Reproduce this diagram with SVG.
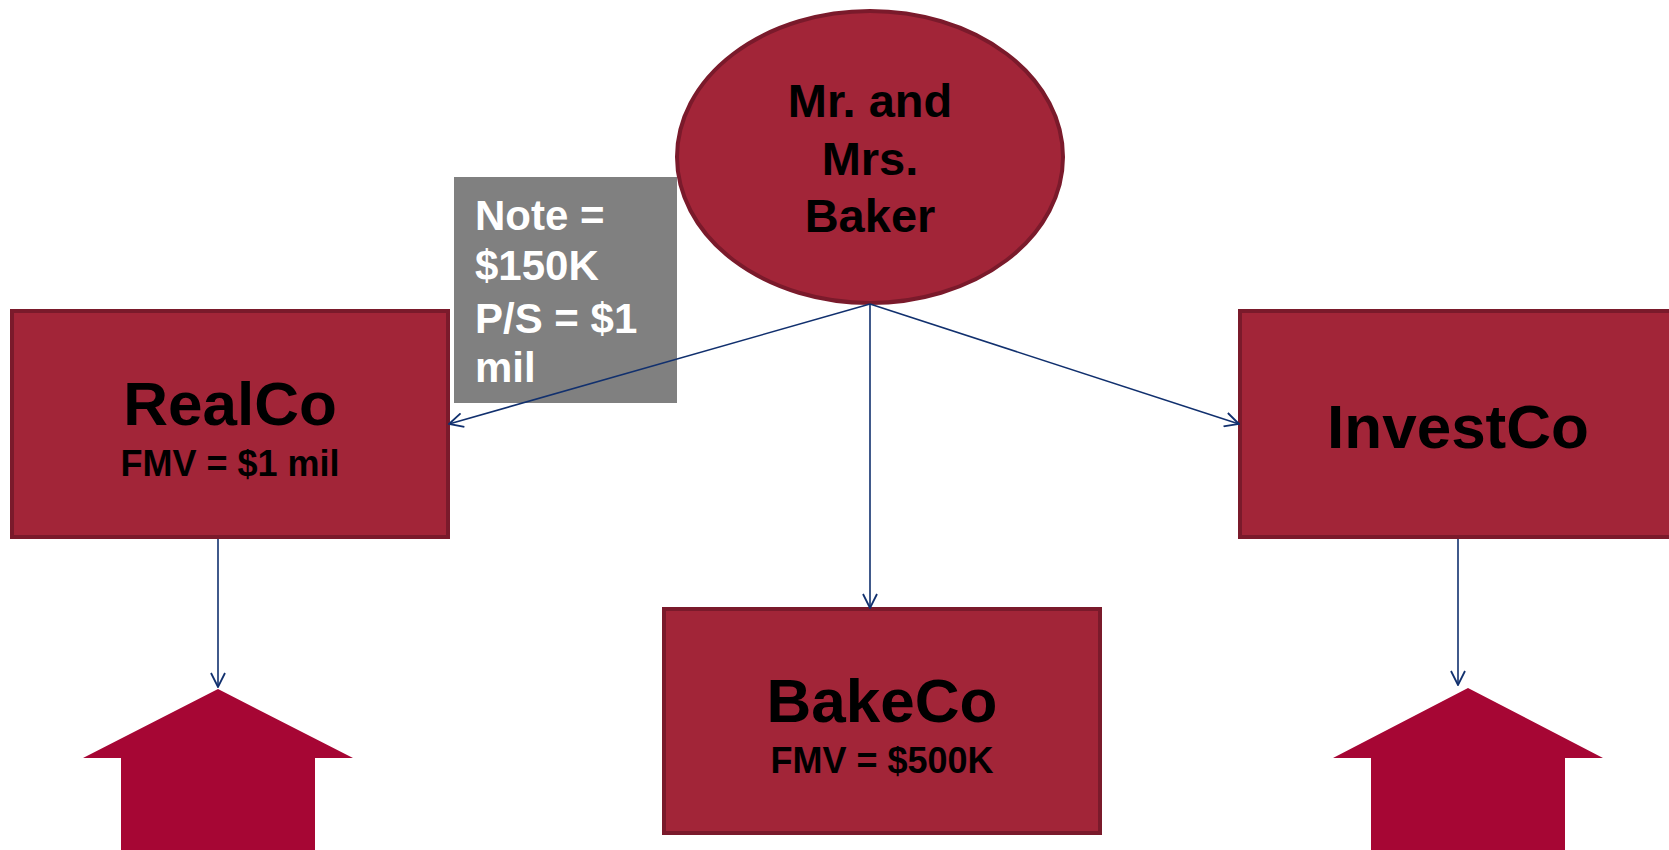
<svg xmlns="http://www.w3.org/2000/svg" width="1669" height="850" viewBox="0 0 1669 850">
<style>
.node{fill:#A22538;stroke:#7A1A2B;stroke-width:4}
.t{font-family:"Liberation Sans",Arial,sans-serif;font-weight:bold;fill:#000;text-anchor:middle}
.big{font-size:62px}
.sub{font-size:36px}
.el{font-size:47px}
.note{font-family:"Liberation Sans",Arial,sans-serif;font-weight:bold;fill:#fff;font-size:42px}
.conn{stroke:#11306E;stroke-width:1.6;fill:none}
.house{fill:#A60634}
</style>
<defs>
<marker id="arr" viewBox="0 0 16 16" refX="15" refY="8" markerWidth="16" markerHeight="16" markerUnits="userSpaceOnUse" orient="auto">
<path d="M1,1 L15,8 L1,15" fill="none" stroke="#11306E" stroke-width="1.8"/>
</marker>
</defs>
<rect width="1669" height="850" fill="#fff"/>
<g id="house-left"><polygon class="house" points="218,689 353,758 315,758 315,850 121,850 121,758 83,758"/></g>
<g id="house-right"><polygon class="house" points="1468,688 1603,758 1565,758 1565,850 1371,850 1371,758 1333,758"/></g>
<g id="bakers">
<ellipse class="node" cx="870" cy="157" rx="193" ry="146"/>
<text class="t el" x="870" y="117">Mr. and</text>
<text class="t el" x="870" y="175">Mrs.</text>
<text class="t el" x="870" y="232">Baker</text>
</g>
<g id="note">
<rect x="454" y="177" width="223" height="226" fill="#808080"/>
<text class="note" x="475" y="230">Note =</text>
<text class="note" x="475" y="280">$150K</text>
<text class="note" x="475" y="333">P/S = $1</text>
<text class="note" x="475" y="382">mil</text>
</g>
<g id="realco">
<rect class="node" x="12" y="311" width="436" height="226"/>
<text class="t big" x="230" y="425">RealCo</text>
<text class="t sub" x="230" y="476">FMV = $1 mil</text>
</g>
<g id="investco">
<rect class="node" x="1240" y="311" width="436" height="226"/>
<text class="t big" x="1458" y="448">InvestCo</text>
</g>
<g id="bakeco">
<rect class="node" x="664" y="609" width="436" height="224"/>
<text class="t big" x="882" y="722">BakeCo</text>
<text class="t sub" x="882" y="773">FMV = $500K</text>
</g>
<g id="connectors">
<line class="conn" x1="870" y1="304" x2="449" y2="424" marker-end="url(#arr)"/>
<line class="conn" x1="870" y1="304" x2="1239" y2="424" marker-end="url(#arr)"/>
<line class="conn" x1="870" y1="304" x2="870" y2="608" marker-end="url(#arr)"/>
<line class="conn" x1="218" y1="539" x2="218" y2="687" marker-end="url(#arr)"/>
<line class="conn" x1="1458" y1="539" x2="1458" y2="685" marker-end="url(#arr)"/>
</g>
</svg>
